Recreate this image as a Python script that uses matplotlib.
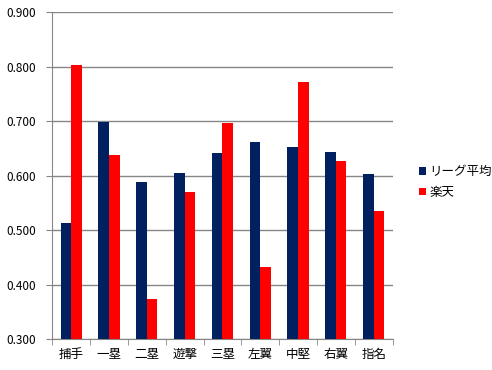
import numpy as np
import matplotlib.pyplot as plt

plt.rcParams['font.family'] = ['Noto Sans CJK JP', 'DejaVu Sans']

positions = ['捕手', '一塁', '二塁', '遊撃', '三塁', '左翼', '中堅', '右翼', '指名']
league_avg = [0.513, 0.698, 0.588, 0.605, 0.641, 0.661, 0.652, 0.643, 0.603]
rakuten = [0.802, 0.638, 0.374, 0.570, 0.696, 0.432, 0.771, 0.627, 0.535]
series_names = ['リーグ平均', '楽天']
yticks = [0.3, 0.4, 0.5, 0.6, 0.7, 0.8, 0.9]

fig = plt.figure(figsize=(4.92, 3.70), dpi=100)
ax = fig.add_axes([0.1063, 0.083, 0.6917, 0.8846])

x = np.arange(len(positions))
w = 0.28
ax.bar(x - w / 2, league_avg, w, color='#002060', label=series_names[0], zorder=3)
ax.bar(x + w / 2, rakuten, w, color='#ff0000', label=series_names[1], zorder=3)

ax.set_xlim(-0.5, len(positions) - 0.5)
ax.set_ylim(0.3, 0.9)
ax.set_yticks(yticks)
ax.set_yticklabels(['%.3f' % v for v in yticks], fontsize=8.5)
ax.yaxis.grid(True, color='#868686', linewidth=1.0, zorder=0)

ax.set_xticks(x)
ax.set_xticklabels(positions, fontsize=9)
ax.set_xticks(np.arange(len(positions) + 1) - 0.5, minor=True)
ax.tick_params(axis='x', which='major', length=0, pad=6)
ax.tick_params(axis='x', which='minor', length=4, color='#868686', direction='out')
ax.tick_params(axis='y', length=4, color='#868686', direction='out', pad=8)

for s in ['top', 'right']:
    ax.spines[s].set_visible(False)
for s in ['left', 'bottom']:
    ax.spines[s].set_color('#868686')

fig.legend(loc='center left', bbox_to_anchor=(0.828, 0.508), frameon=False,
           handlelength=0.55, handleheight=0.55, handletextpad=0.3,
           labelspacing=0.6, fontsize=9)

fig.savefig('out.png', dpi=100)
